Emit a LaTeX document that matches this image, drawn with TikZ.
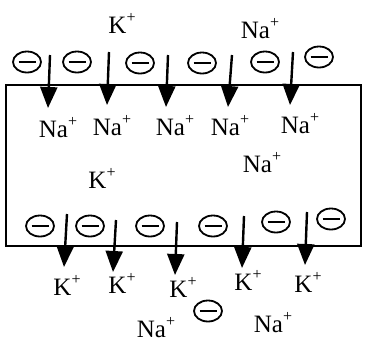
\documentclass[tikz,border=0pt]{standalone}
\usepackage{fontspec}
\setmainfont{Liberation Serif}
\usepackage{tikz}
\usetikzlibrary{calc,positioning,shapes.geometric,arrows.meta}

\newcommand{\chg}{\raisebox{0.42em}{\fontsize{16}{16}\selectfont+}}

\tikzset{
  ion/.style={
    text=black,
    font=\fontsize{25}{29}\selectfont,
    anchor=base,
    inner sep=0pt
  },
  anion/.style={
    ellipse,
    draw=black,
    line width=1.8pt,
    minimum width=28pt,
    minimum height=21pt,
    inner sep=0pt,
    path picture={
      \draw[line width=2pt]
        ([xshift=-8.5pt]path picture bounding box.center) --
        ([xshift=8.5pt]path picture bounding box.center);
    }
  },
  flux/.style={
    black,
    line width=2.4pt,
    -{Triangle[length=21pt,width=17pt]}
  }
}

\begin{document}
\begin{tikzpicture}[x=1pt,y=-1pt]
    \useasboundingbox (0,0) rectangle (366,349);
    % cell membrane
    \draw[black,line width=2pt] (6,85) rectangle (361,246);
    % ions outside, top
    \node[ion] (kout) at (122,33) {K\chg};
    \node[ion] (naout) at (260,38) {Na\chg};
    % fixed charges, top
    \node[anion] (mt1) at (27,62) {};
    \node[anion] (mt2) at (77,62) {};
    \node[anion] (mt3) at (140,63) {};
    \node[anion] (mt4) at (202,63) {};
    \node[anion] (mt5) at (265,62) {};
    \node[anion] (mt6) at (319,57) {};
    % ions inside
    \node[ion] (na1) at (58,137) {Na\chg};
    \node[ion] (na2) at (112,135) {Na\chg};
    \node[ion] (na3) at (175,135) {Na\chg};
    \node[ion] (na4) at (230,135) {Na\chg};
    \node[ion] (na5) at (300,133) {Na\chg};
    \node[ion] (na6) at (262,172) {Na\chg};
    \node[ion] (kin) at (102,188) {K\chg};
    % fixed charges, bottom
    \node[anion] (mb1) at (40,226) {};
    \node[anion] (mb2) at (90,226) {};
    \node[anion] (mb3) at (150,226) {};
    \node[anion] (mb4) at (213,226) {};
    \node[anion] (mb5) at (276,222) {};
    \node[anion] (mb6) at (331,219) {};
    % ions outside, bottom
    \node[ion] (k1) at (67,295) {K\chg};
    \node[ion] (k2) at (122,293) {K\chg};
    \node[ion] (k3) at (183,297) {K\chg};
    \node[ion] (k4) at (248,290) {K\chg};
    \node[ion] (k5) at (308,292) {K\chg};
    \node[anion] (mfree) at (208,311) {};
    \node[ion] (nab1) at (156,337) {Na\chg};
    \node[ion] (nab2) at (273,332) {Na\chg};
    % Na+ flux in
    \coordinate (ti1) at (50,55);  \coordinate (te1) at (48,108);
    \coordinate (ti2) at (109,52); \coordinate (te2) at (107,105);
    \coordinate (ti3) at (168,55); \coordinate (te3) at (166,107);
    \coordinate (ti4) at (232,55); \coordinate (te4) at (228,107);
    \coordinate (ti5) at (293,52); \coordinate (te5) at (290,105);
    \foreach \i in {1,...,5}
      \draw[flux] (ti\i) -- (te\i);
    % K+ flux out
    \coordinate (bi1) at (67,214);  \coordinate (be1) at (64,267);
    \coordinate (bi2) at (116,220); \coordinate (be2) at (113,272);
    \coordinate (bi3) at (177,222); \coordinate (be3) at (175,275);
    \coordinate (bi4) at (244,216); \coordinate (be4) at (242,268);
    \coordinate (bi5) at (307,212); \coordinate (be5) at (305,265);
    \foreach \i in {1,...,5}
      \draw[flux] (bi\i) -- (be\i);
  \end{tikzpicture}
\end{document}
